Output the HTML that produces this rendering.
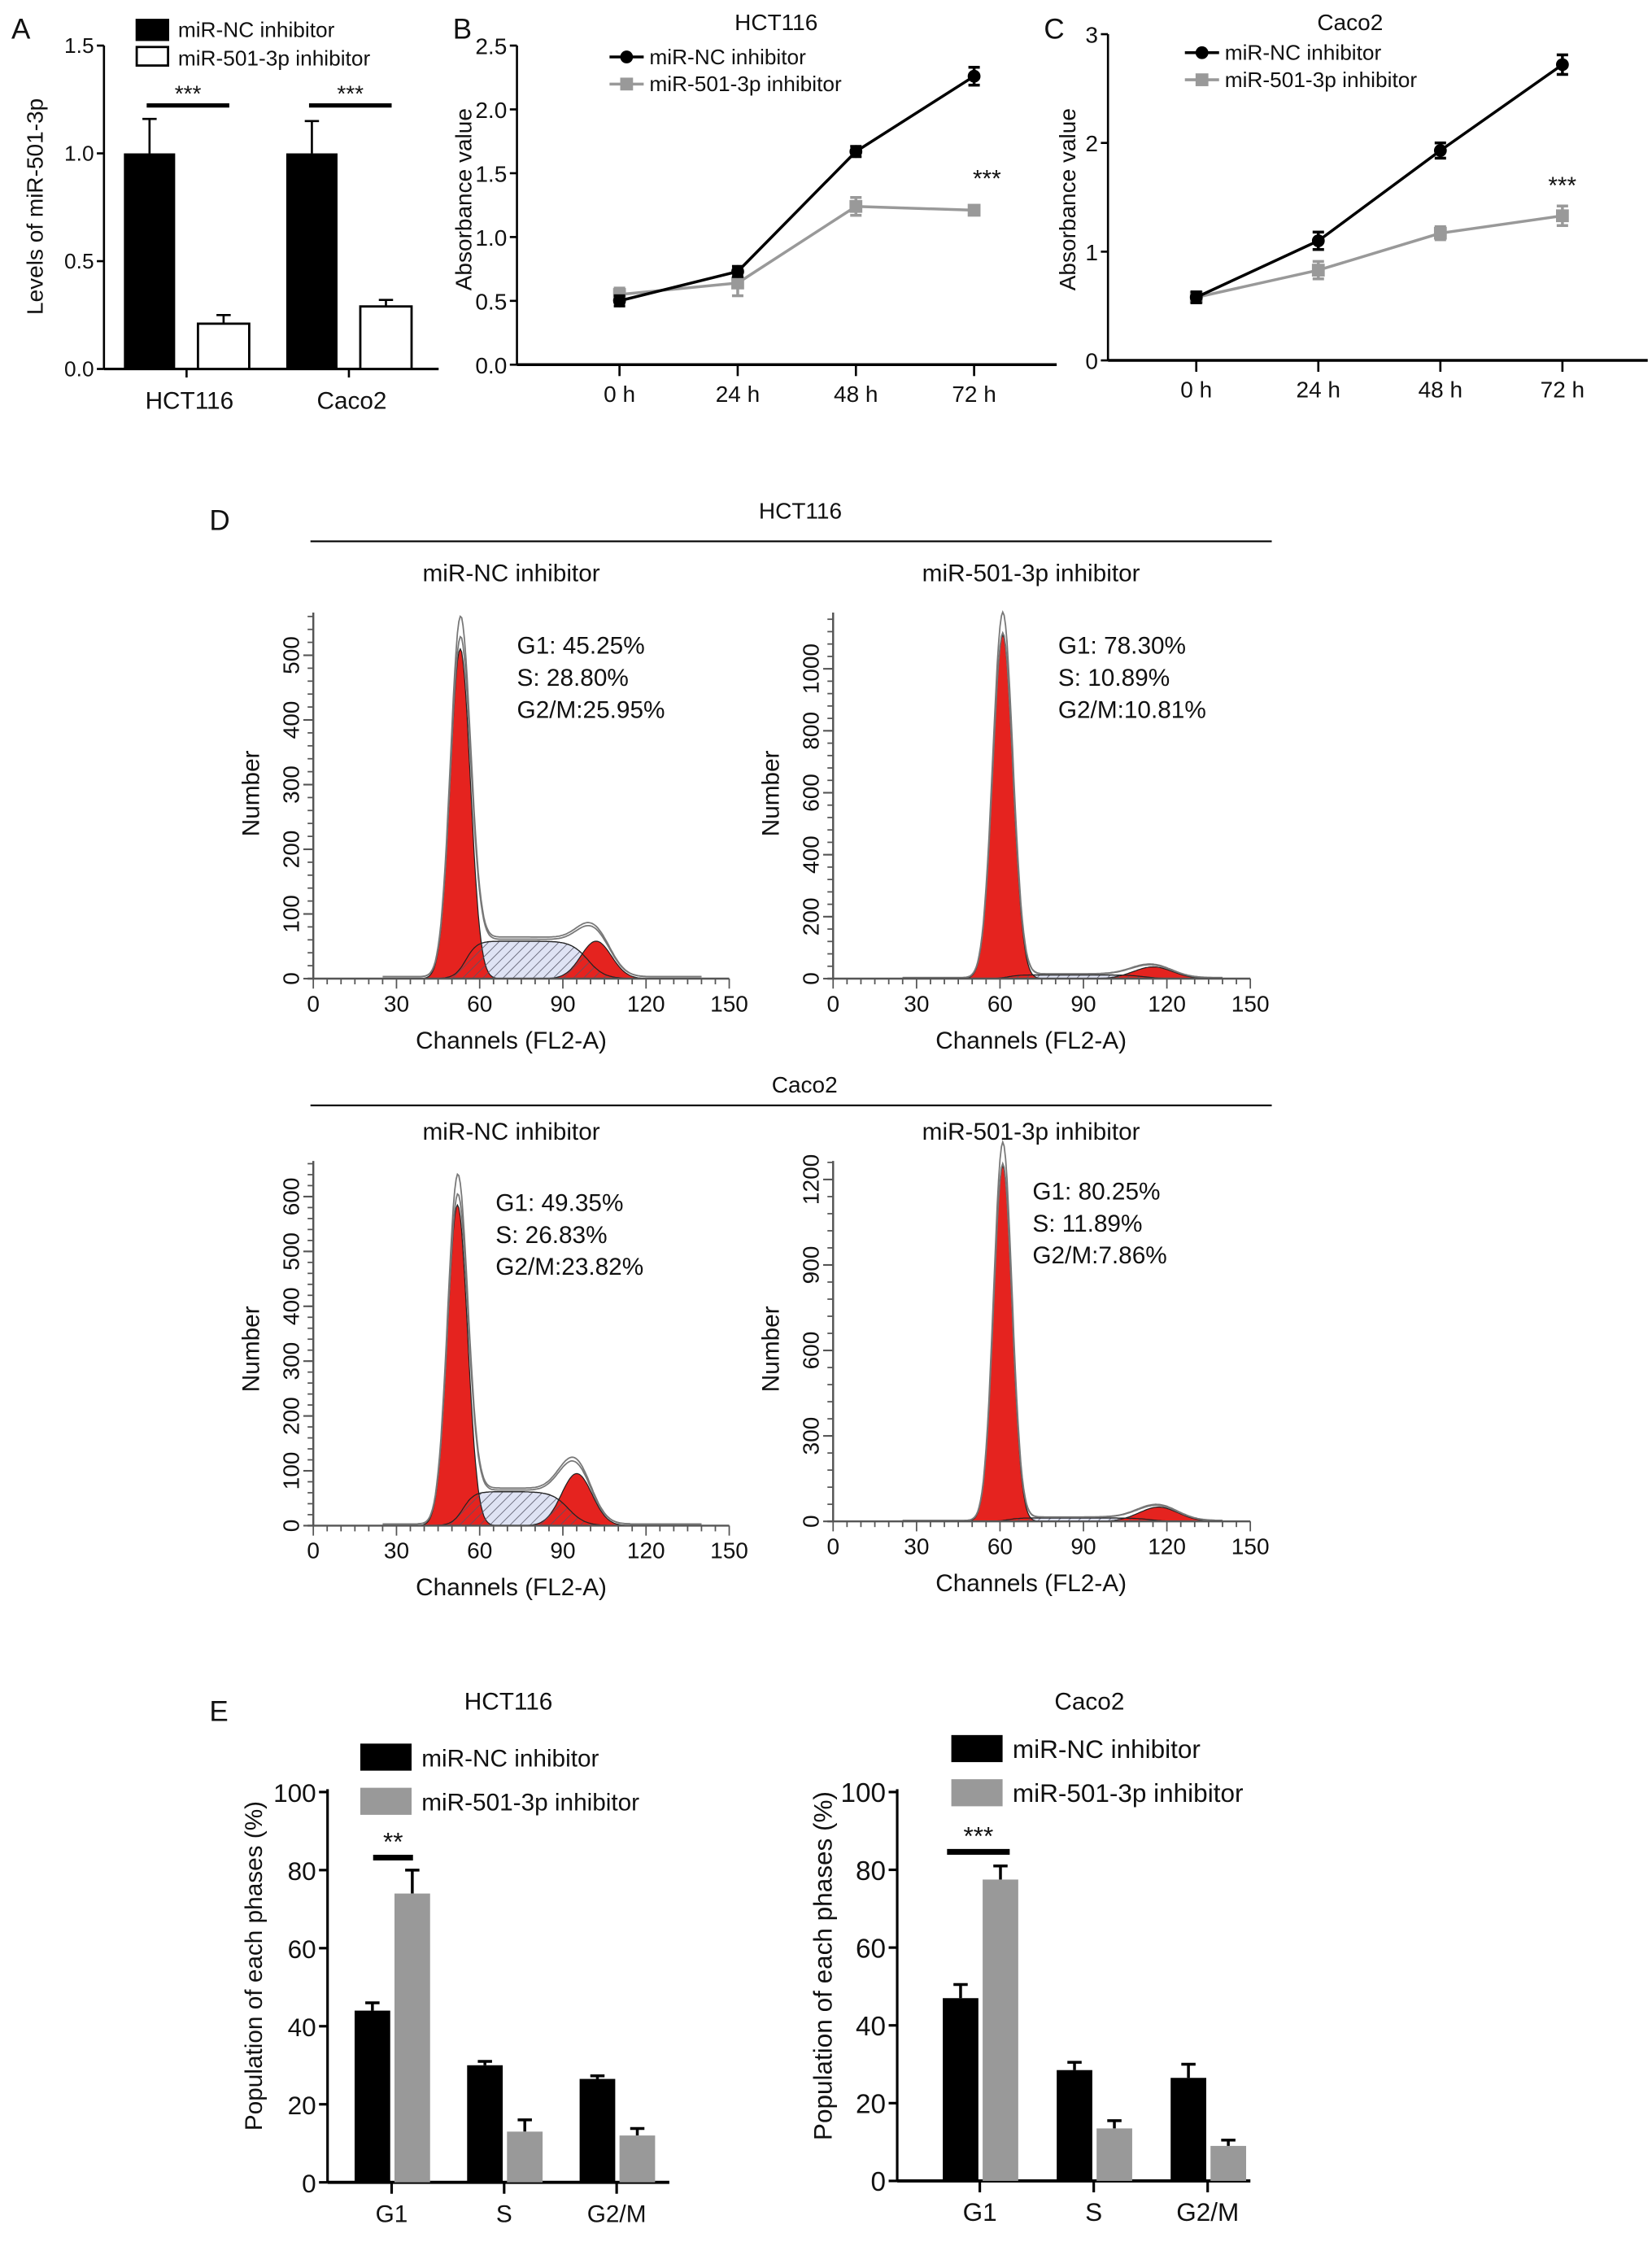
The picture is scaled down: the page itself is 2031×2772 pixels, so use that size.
<!DOCTYPE html>
<html><head><meta charset="utf-8">
<style>
html,body{margin:0;padding:0;background:#fff;}
svg{display:block;font-family:"Liberation Sans",sans-serif;}
</style></head>
<body>
<svg id="fig" width="2031" height="2772" viewBox="0 0 1160 1583" preserveAspectRatio="none" xmlns="http://www.w3.org/2000/svg">
<defs>
<pattern id="hatch" width="5" height="5" patternUnits="userSpaceOnUse" patternTransform="rotate(45)">
<line x1="0" y1="0" x2="0" y2="5" stroke="#556" stroke-width="0.9"/>
</pattern>
</defs>
<g id="root"></g>
</svg>
<script>
// ---- Panel A data ----
const aCats = ["HCT116", "Caco2"];
const aNC = [1.0, 1.0];
const aNCerr = [0.16, 0.15];
const a501 = [0.21, 0.29];
const a501err = [0.04, 0.03];
const aTicks = ["0.0", "0.5", "1.0", "1.5"];
// ---- Panel B data ----
const times = ["0 h", "24 h", "48 h", "72 h"];
const bNC = [0.50, 0.73, 1.67, 2.26];
const bNCerr = [0.04, 0.04, 0.04, 0.07];
const b501 = [0.55, 0.64, 1.24, 1.21];
const b501err = [0.05, 0.10, 0.07, 0.03];
const bTicks = ["0.0", "0.5", "1.0", "1.5", "2.0", "2.5"];
// ---- Panel C data ----
const cNC = [0.58, 1.10, 1.93, 2.72];
const cNCerr = [0.05, 0.08, 0.07, 0.09];
const c501 = [0.58, 0.83, 1.17, 1.33];
const c501err = [0.05, 0.08, 0.06, 0.09];
const cTicks = ["0", "1", "2", "3"];
// ---- Panel D histogram model parameters [g1Mean, g1Height, g1Sd, sLevel, g2Mean, g2Height, g2Sd] ----
const dHctNC = [53, 510, 3.6, 58, 102, 58, 5.5];
const dHct501 = [61, 1110, 3.6, 12, 115, 38, 7];
const dCacoNC = [52, 585, 3.6, 62, 95, 95, 5.5];
const dCaco501 = [61, 1250, 3.3, 12, 117, 50, 7];
const dStatsHctNC = ["G1: 45.25%", "S: 28.80%", "G2/M:25.95%"];
const dStatsHct501 = ["G1: 78.30%", "S: 10.89%", "G2/M:10.81%"];
const dStatsCacoNC = ["G1: 49.35%", "S: 26.83%", "G2/M:23.82%"];
const dStatsCaco501 = ["G1: 80.25%", "S: 11.89%", "G2/M:7.86%"];
// ---- Panel E data ----
const phases = ["G1", "S", "G2/M"];
const eHctNC = [44, 30, 26.5];
const eHctNCerr = [2, 1, 0.8];
const eHct501 = [74, 13, 12];
const eHct501err = [6, 3, 1.8];
const eCacoNC = [47, 28.5, 26.5];
const eCacoNCerr = [3.5, 2, 3.5];
const eCaco501 = [77.5, 13.5, 9];
const eCaco501err = [3.5, 2, 1.5];
const eTicks = ["0", "20", "40", "60", "80", "100"];

let out = "";
function t(x, y, s, size, opts) {
  opts = opts || {};
  const anchor = opts.anchor || "start";
  const rot = opts.rot ? ` transform="rotate(-90 ${x} ${y})"` : "";
  out += `<text x="${x}" y="${y}" font-size="${size}" text-anchor="${anchor}" fill="${opts.fill || '#111'}"${rot}>${s}</text>`;
}
function ln(x1, y1, x2, y2, w, c, name) {
  out += `<line x1="${x1}" y1="${y1}" x2="${x2}" y2="${y2}" stroke="${c || '#000'}" stroke-width="${w || 1.5}"/>`;
}
function rect(x, y, w, h, fill, stroke, name) {
  out += `<rect x="${x}" y="${y}" width="${w}" height="${h}" fill="${fill}" stroke="${stroke || 'none'}" stroke-width="1.6"/>`;
}

// ===== Panel A =====
t(8, 27, "A", 20, {name: "panel-a-label"});
(function () {
  const x0 = 73, y0 = 259, yTop = 32, max = 1.5;
  const Y = v => y0 - (v / max) * (y0 - yTop);
  ln(x0, yTop, x0, y0, 1.5, "#000", "a-y-axis");
  ln(x0, y0, 308, y0, 1.8, "#000", "a-x-axis");
  aTicks.forEach(s => { const v = parseFloat(s); ln(x0 - 5, Y(v), x0, Y(v)); t(x0 - 7, Y(v) + 5, s, 15, {anchor: "end", name: "a-y-tick"}); });
  t(30, 145, "Levels of miR-501-3p", 16, {rot: true, anchor: "middle", name: "a-y-axis-title"});
  const centers = [131, 245];
  aCats.forEach((c, i) => {
    const cx = centers[i];
    const bw = 36, bx = cx - 44, wx = cx + 8;
    ln(bx + bw / 2, Y(aNC[i]), bx + bw / 2, Y(aNC[i] + aNCerr[i]), 1.5);
    ln(bx + bw / 2 - 5, Y(aNC[i] + aNCerr[i]), bx + bw / 2 + 5, Y(aNC[i] + aNCerr[i]), 1.5);
    rect(bx, Y(aNC[i]), bw, y0 - Y(aNC[i]), "#000", "none", "a-bar-nc-" + i);
    ln(wx + bw / 2, Y(a501[i]), wx + bw / 2, Y(a501[i] + a501err[i]), 1.5);
    ln(wx + bw / 2 - 5, Y(a501[i] + a501err[i]), wx + bw / 2 + 5, Y(a501[i] + a501err[i]), 1.5);
    rect(wx, Y(a501[i]), bw, y0 - Y(a501[i]), "#fff", "#000", "a-bar-501-" + i);
    ln(cx, y0, cx, y0 + 6, 1.5);
    t(cx + 2, 287, c, 17, {anchor: "middle", name: "a-x-tick"});
    ln(cx - 28, 74, cx + 30, 74, 3, "#000", "a-sig-line");
    t(cx + 1, 71, "***", 16, {anchor: "middle", name: "a-sig-stars"});
  });
  rect(96, 14, 22, 14, "#000", "#000", "a-legend-nc-swatch");
  t(125, 26, "miR-NC inhibitor", 15, {name: "a-legend-nc"});
  rect(96, 33, 22, 13, "#fff", "#000", "a-legend-501-swatch");
  t(125, 46, "miR-501-3p inhibitor", 15, {name: "a-legend-501"});
})();

// ===== Line panels =====
function linePanel(p) {
  const Y = v => p.y0 - (v / p.max) * (p.y0 - p.yTop);
  const X = i => p.xs[0] + i * (p.xs[1] - p.xs[0]);
  t(p.lx, 27, p.letter, 20, {name: "panel-" + p.letter.toLowerCase() + "-label"});
  t(p.tx, 21, p.title, 16, {anchor: "middle", name: "line-chart-title"});
  ln(p.ax, p.yTop, p.ax, p.y0, 1.5, "#000", "line-y-axis");
  ln(p.ax, p.y0, p.xend, p.y0, 2, "#000", "line-x-axis");
  p.ticks.forEach(s => { const v = parseFloat(s); ln(p.ax - 5, Y(v), p.ax, Y(v)); t(p.ax - 7, Y(v) + 6, s, 16, {anchor: "end", name: "line-y-tick"}); });
  times.forEach((s, i) => { ln(X(i), p.y0, X(i), p.y0 + 8); t(X(i), p.y0 + 26, s, 16, {anchor: "middle", name: "line-x-tick"}); });
  t(p.ytx, 140, "Absorbance value", 16, {rot: true, anchor: "middle", name: "line-y-axis-title"});
  [[p.s501, p.e501, "#999", "series-501"], [p.nc, p.enc, "#000", "series-nc"]].forEach(([vals, errs, col, nm]) => {
    let d = "";
    vals.forEach((v, i) => { d += (i ? "L" : "M") + X(i) + "," + Y(v); });
    out += `<path d="${d}" fill="none" stroke="${col}" stroke-width="2"/>`;
    vals.forEach((v, i) => {
      ln(X(i), Y(v - errs[i]), X(i), Y(v + errs[i]), 2, col, nm + "-err");
      ln(X(i) - 4, Y(v - errs[i]), X(i) + 4, Y(v - errs[i]), 2, col, nm + "-err");
      ln(X(i) - 4, Y(v + errs[i]), X(i) + 4, Y(v + errs[i]), 2, col, nm + "-err");
      if (col === "#000") out += `<circle cx="${X(i)}" cy="${Y(v)}" r="4.5" fill="#000"/>`;
      else rect(X(i) - 4.5, Y(v) - 4.5, 9, 9, col, "none", nm + "-point");
    });
  });
  t(p.starX, p.starY, "***", 17, {anchor: "middle", name: "line-sig-stars"});
  ln(p.legX, p.legY, p.legX + 24, p.legY, 2, "#000", "legend-nc-line");
  out += `<circle cx="${p.legX + 12}" cy="${p.legY}" r="4.5" fill="#000"/>`;
  t(p.legX + 28, p.legY + 5, "miR-NC inhibitor", 15, {name: "legend-nc"});
  ln(p.legX, p.legY + 19, p.legX + 24, p.legY + 19, 2, "#999", "legend-501-line");
  rect(p.legX + 7.5, p.legY + 14.5, 9, 9, "#999", "none", "legend-501-marker");
  t(p.legX + 28, p.legY + 24, "miR-501-3p inhibitor", 15, {name: "legend-501"});
}
linePanel({letter: "B", lx: 318, title: "HCT116", tx: 545, ax: 363, y0: 256, yTop: 32, max: 2.5, xs: [435, 518], xend: 742,
  ticks: bTicks, nc: bNC, enc: bNCerr, s501: b501, e501: b501err, ytx: 331, starX: 693, starY: 131, legX: 428, legY: 40});
linePanel({letter: "C", lx: 733, title: "Caco2", tx: 948, ax: 778, y0: 253, yTop: 24, max: 3, xs: [840, 925.7], xend: 1157,
  ticks: cTicks, nc: cNC, enc: cNCerr, s501: c501, e501: c501err, ytx: 755, starX: 1097, starY: 136, legX: 832, legY: 37});

// ===== Panel D =====
t(147, 372, "D", 20, {name: "panel-d-label"});
t(562, 364, "HCT116", 16, {anchor: "middle", name: "d-hct116-title"});
ln(218, 380, 893, 380, 1.2, "#000", "d-hct116-rule");
t(565, 767, "Caco2", 16, {anchor: "middle", name: "d-caco2-title"});
ln(218, 776, 893, 776, 1.2, "#000", "d-caco2-rule");
function hist(h) {
  const [m1, h1, sd1, sl, m2, h2, sd2] = h.p;
  const X = c => h.ax + c * h.xs;
  const Y = v => h.y0 - v * h.ys;
  const sig = z => 1 / (1 + Math.exp(-z));
  const g1 = c => h1 * Math.exp(-((c - m1) ** 2) / (2 * sd1 * sd1));
  const g2 = c => h2 * Math.exp(-((c - m2) ** 2) / (2 * sd2 * sd2));
  const sp = c => sl * sig((c - m1 - 2) / 2) * (1 - sig((c - m2 + 3) / 3));
  function area(f, name, fill) {
    let d = `M${X(20)},${h.y0}`;
    for (let c = 20; c <= 145; c += 0.5) d += `L${X(c).toFixed(1)},${Y(f(c)).toFixed(1)}`;
    d += `L${X(145)},${h.y0}Z`;
    out += `<path d="${d}" fill="${fill}" stroke="#222" stroke-width="0.7"/>`;
  }
  area(sp, "s-phase-fill", "#dfe3f4");
  area(g1, "g1-peak", "#e5231f");
  area(g2, "g2-peak", "#e5231f");
  area(sp, "s-phase-hatch", "url(#hatch)");
  [1, 1.06].forEach((k, j) => {
    let d = "";
    for (let c = 25; c <= 140; c += 0.5) d += (c === 25 ? "M" : "L") + X(c).toFixed(1) + "," + Y(k * (g1(c) + g2(c) + sp(c)) + 3).toFixed(1);
    out += `<path d="${d}" fill="none" stroke="#777" stroke-width="1"/>`;
  });
  ln(h.ax, h.yTopPx, h.ax, h.y0, 1.4, "#555", "hist-y-axis");
  ln(h.ax - 4, h.y0, X(150), h.y0, 1.4, "#555", "hist-x-axis");
  for (let c = 0; c <= 150; c += 5) ln(X(c), h.y0, X(c), h.y0 + (c % 30 === 0 ? 7 : 4), 1, "#555");
  [0, 30, 60, 90, 120, 150].forEach(c => t(X(c), h.y0 + 23, c, 16, {anchor: "middle", name: "hist-x-tick"}));
  for (let v = 0; Y(v) >= h.yTopPx; v += h.minor) ln(h.ax - 4, Y(v), h.ax, Y(v), 1, "#555");
  h.ticks.forEach(v => { ln(h.ax - 7, Y(v), h.ax, Y(v), 1.2, "#555"); t(h.ax - 10, Y(v), v, 16, {rot: true, anchor: "middle", name: "hist-y-tick"}); });
  t(h.ax + 139, h.y0 + 49, "Channels (FL2-A)", 17, {anchor: "middle", name: "hist-x-axis-title"});
  t(h.ax - 38, h.numY, "Number", 17, {rot: true, anchor: "middle", name: "hist-y-axis-title"});
  t(h.ax + 139, h.subY, h.sub, 17, {anchor: "middle", name: "hist-subtitle"});
  h.stats.forEach((s, i) => t(h.sx, h.sy + i * 22.5, s, 17, {name: "hist-stat"}));
}
hist({ax: 220, y0: 687, xs: 1.947, ys: 0.454, yTopPx: 430, p: dHctNC, minor: 20, ticks: [0, 100, 200, 300, 400, 500],
  numY: 557, sub: "miR-NC inhibitor", subY: 408, stats: dStatsHctNC, sx: 363, sy: 459});
hist({ax: 585, y0: 687, xs: 1.953, ys: 0.2175, yTopPx: 430, p: dHct501, minor: 40, ticks: [0, 200, 400, 600, 800, 1000],
  numY: 557, sub: "miR-501-3p inhibitor", subY: 408, stats: dStatsHct501, sx: 743, sy: 459});
hist({ax: 220, y0: 1071, xs: 1.947, ys: 0.385, yTopPx: 815, p: dCacoNC, minor: 20, ticks: [0, 100, 200, 300, 400, 500, 600],
  numY: 947, sub: "miR-NC inhibitor", subY: 800, stats: dStatsCacoNC, sx: 348, sy: 850});
hist({ax: 585, y0: 1068, xs: 1.953, ys: 0.2, yTopPx: 815, p: dCaco501, minor: 60, ticks: [0, 300, 600, 900, 1200],
  numY: 947, sub: "miR-501-3p inhibitor", subY: 800, stats: dStatsCaco501, sx: 725, sy: 842});

// ===== Panel E =====
t(147, 1208, "E", 20, {name: "panel-e-label"});
function barPanel(p) {
  const Y = v => p.y0 - v * p.ys;
  t(p.tx, 1200, p.title, 17, {anchor: "middle", name: "e-title"});
  ln(p.ax, Y(100) - 2, p.ax, p.y0, 1.8, "#000", "e-y-axis");
  ln(p.ax, p.y0, p.xend, p.y0, 2.2, "#000", "e-x-axis");
  eTicks.forEach(s => { const v = +s; ln(p.ax - 6, Y(v), p.ax, Y(v), 1.8); t(p.ax - 8, Y(v) + 7, s, p.fs, {anchor: "end", name: "e-y-tick"}); });
  t(p.ytx, 1380, "Population of each phases (%)", p.fs - 1, {rot: true, anchor: "middle", name: "e-y-axis-title"});
  phases.forEach((ph, i) => {
    const cx = p.cx[0] + i * (p.cx[1] - p.cx[0]);
    const bw = 25;
    [[p.nc, p.enc, "#000", cx - bw - 1, "e-bar-nc"], [p.s501, p.e501, "#999", cx + 2, "e-bar-501"]].forEach(([v, e, col, bx, nm]) => {
      ln(bx + bw / 2, Y(v[i]), bx + bw / 2, Y(v[i] + e[i]), 2);
      ln(bx + bw / 2 - 5, Y(v[i] + e[i]), bx + bw / 2 + 5, Y(v[i] + e[i]), 2);
      rect(bx, Y(v[i]), bw, p.y0 - Y(v[i]), col, "none", nm + "-" + i);
    });
    ln(cx, p.y0, cx, p.y0 + 8, 1.8);
    t(cx, p.y0 + 28, ph, p.fs - 1, {anchor: "middle", name: "e-x-tick"});
  });
  ln(p.sig[0], p.sig[2], p.sig[1], p.sig[2], 4, "#000", "e-sig-line");
  t((p.sig[0] + p.sig[1]) / 2, p.sig[2] - 5, p.stars, 18, {anchor: "middle", name: "e-sig-stars"});
  rect(p.lx, p.ly, 36, 19, "#000", "none", "e-legend-nc-swatch");
  t(p.lx + 43, p.ly + 16, "miR-NC inhibitor", p.fs - 1, {name: "e-legend-nc"});
  rect(p.lx, p.ly + 31, 36, 19, "#999", "none", "e-legend-501-swatch");
  t(p.lx + 43, p.ly + 47, "miR-501-3p inhibitor", p.fs - 1, {name: "e-legend-501"});
}
barPanel({title: "HCT116", tx: 357, ax: 230, y0: 1532, ys: 2.74, xend: 470, cx: [275, 354], fs: 18, ytx: 184,
  nc: eHctNC, enc: eHctNCerr, s501: eHct501, e501: eHct501err, sig: [262, 290, 1304], stars: "**", lx: 253, ly: 1224});
barPanel({title: "Caco2", tx: 765, ax: 630, y0: 1531, ys: 2.73, xend: 878, cx: [688, 768], fs: 19, ytx: 584,
  nc: eCacoNC, enc: eCacoNCerr, s501: eCaco501, e501: eCaco501err, sig: [665, 709, 1300], stars: "***", lx: 668, ly: 1218});

document.getElementById("root").innerHTML = out;
</script>
</body></html>
